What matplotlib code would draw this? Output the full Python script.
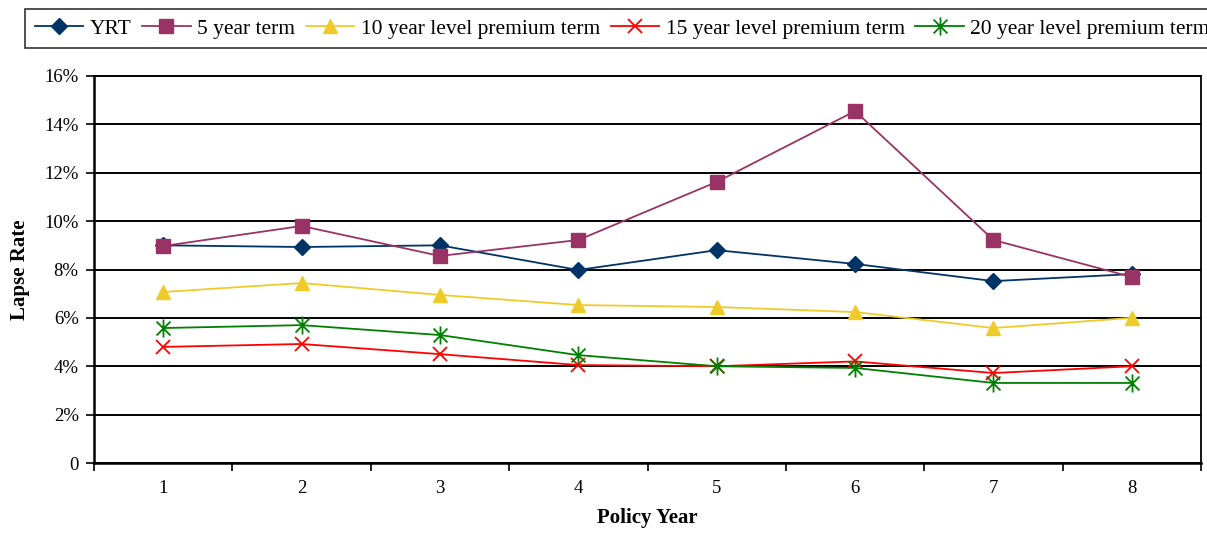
import matplotlib
matplotlib.use("Agg")
import matplotlib.pyplot as plt
from matplotlib.path import Path
from matplotlib.ticker import FuncFormatter, FixedLocator

# Lapse rates (%) by policy year for each term product
policy_years = [1, 2, 3, 4, 5, 6, 7, 8]
yrt = [9.0, 8.93, 9.0, 7.98, 8.8, 8.23, 7.52, 7.81]
term_5 = [8.97, 9.8, 8.56, 9.22, 11.62, 14.55, 9.22, 7.69]
level_10 = [7.07, 7.44, 6.95, 6.53, 6.45, 6.24, 5.58, 6.0]
level_15 = [4.8, 4.92, 4.5, 4.05, 4.0, 4.2, 3.72, 4.0]
level_20 = [5.58, 5.7, 5.29, 4.46, 4.0, 3.93, 3.31, 3.31]

series_names = ["YRT", "5 year term", "10 year level premium term",
                "15 year level premium term", "20 year level premium term"]
y_ticks = [0, 2, 4, 6, 8, 10, 12, 14, 16]

plt.rcParams["font.family"] = ["Liberation Serif", "DejaVu Serif"]

# asterisk marker: an "x" crossed by a vertical bar
star = Path([(-1, -1), (1, 1), (-1, 1), (1, -1), (0, -1.3), (0, 1.3)],
            [Path.MOVETO, Path.LINETO, Path.MOVETO, Path.LINETO,
             Path.MOVETO, Path.LINETO])

fig = plt.figure(figsize=(12.07, 5.35), dpi=100)
ax = fig.add_axes([94 / 1207, 72 / 535, (1201 - 94) / 1207, (463 - 76) / 535])

styles = [
    dict(color="#003366", marker="D", ms=8, mfc="#003366", mec="#003366"),
    dict(color="#993366", marker="s", ms=9.5, mfc="#993366", mec="#993366"),
    dict(color="#EFCB2A", marker="^", ms=9.5, mfc="#EFCB2A", mec="#EFCB2A"),
    dict(color="#FF0000", marker="x", ms=10, mew=1.3, mec="#FF0000"),
    dict(color="#008000", marker=star, ms=13, mew=1.3, mec="#008000"),
]
all_series = [yrt, term_5, level_10, level_15, level_20]

for vals, name, st in zip(all_series, series_names, styles):
    ax.plot(policy_years, vals, lw=1.3, label=name, zorder=3, **st)

ax.set_xlim(0.5, 8.5)
ax.set_ylim(0, 16)

# y axis
ax.set_yticks(y_ticks)
ax.yaxis.set_major_formatter(FuncFormatter(lambda v, p: "0" if v == 0 else f"{v:.0f}%"))
ax.grid(axis="y", color="black", lw=1.4, zorder=1)
ax.tick_params(axis="y", direction="out", length=6, width=1.2, labelsize=13.5, pad=5)

# x axis: ticks between categories, labels at centers
ax.xaxis.set_major_locator(FixedLocator([i + 0.5 for i in range(0, 9)]))
ax.xaxis.set_minor_locator(FixedLocator(policy_years))
ax.xaxis.set_major_formatter(FuncFormatter(lambda v, p: ""))
ax.xaxis.set_minor_formatter(FuncFormatter(lambda v, p: f"{int(round(v))}"))
ax.tick_params(axis="x", which="major", direction="out", length=6, width=1.2)
ax.tick_params(axis="x", which="minor", length=0, labelsize=13.5, pad=12)

for s in ["left", "bottom"]:
    ax.spines[s].set_linewidth(1.8)
ax.spines["right"].set_linewidth(1.3)
ax.spines["top"].set_linewidth(1.4)

ax.set_ylabel("Lapse Rate", fontsize=15, fontweight="bold", labelpad=10)
ax.set_xlabel("Policy Year", fontsize=15, fontweight="bold", labelpad=8)

# legend runs past the right edge of the figure, as in the original layout
leg = fig.legend(loc="upper left", bbox_to_anchor=(25 / 1207, 1 - 9 / 535),
                 ncol=5, fontsize=15.5, frameon=True, fancybox=False,
                 edgecolor="black", handlelength=2.25, handletextpad=0.3,
                 columnspacing=0.5, borderpad=0.45, borderaxespad=0)
leg.get_frame().set_linewidth(1.2)

fig.savefig("out.png", dpi=100)
